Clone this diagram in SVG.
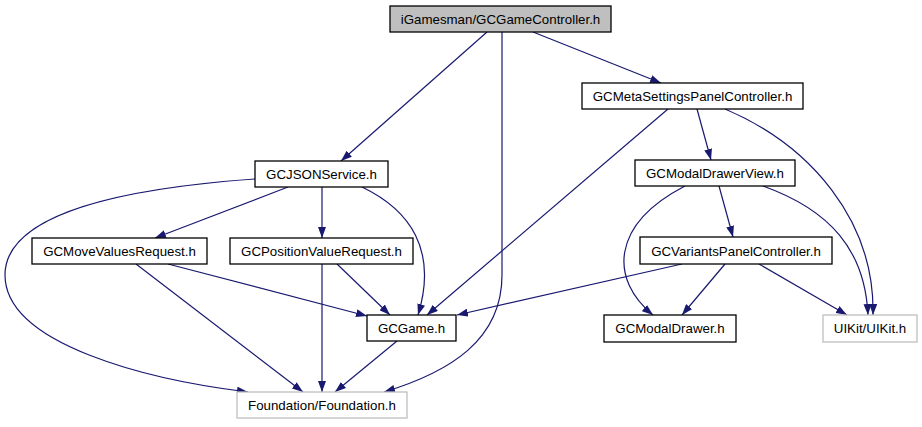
<svg xmlns="http://www.w3.org/2000/svg" width="922" height="427" viewBox="0 0 922 427">
<style>
.n rect{fill:#fff;stroke:#000;stroke-width:1.3}
.n.root rect{fill:#bfbfbf}
.n.ext rect{stroke:#bfbfbf}
.n text{font-family:"Liberation Sans",Arial,sans-serif;font-size:13.3px;text-anchor:middle;fill:#000}
.e path{fill:none;stroke:#191970;stroke-width:1.2;marker-end:url(#a)}
</style>
<defs>
<marker id="a" viewBox="0 0 11 8" refX="11" refY="4" markerWidth="11" markerHeight="8" markerUnits="userSpaceOnUse" orient="auto">
<path d="M0,0 L11,4 L0,8 z" fill="#191970"/>
</marker>
</defs>
<rect width="922" height="427" fill="#fff"/>
<g class="e" id="edges">
<path d="M487,32 L341,161"/>
<path d="M502,32 L502,275 C502,340 450,372 384,392"/>
<path d="M533,32 L661,83"/>
<path d="M668,109 L427,315"/>
<path d="M697,109 L711,160"/>
<path d="M725,109 C810,145 875,220 873,315"/>
<path d="M685,186 C610,225 610,280 653,315"/>
<path d="M719,186 L733,237"/>
<path d="M763,186 C830,210 865,250 868,315"/>
<path d="M682,264 L457,315"/>
<path d="M725,264 L682,315"/>
<path d="M759,264 L847,315"/>
<path d="M288,187 L155,238"/>
<path d="M322,187 L322,238"/>
<path d="M362,187 C410,210 438,250 418,315"/>
<path d="M255,179 C100,190 5,220 5,275 C5,345 150,380 248,392"/>
<path d="M168,264 L367,316"/>
<path d="M136,264 L303,392"/>
<path d="M337,264 L390,315"/>
<path d="M322,264 L322,392"/>
<path d="M397,341 L335,392"/>
</g>
<g class="n root" id="n-root"><rect x="390" y="6" width="221" height="26"/><text x="500.5" y="24">iGamesman/GCGameController.h</text></g>
<g class="n" id="n-meta"><rect x="582" y="83" width="221" height="26"/><text x="692.5" y="101">GCMetaSettingsPanelController.h</text></g>
<g class="n" id="n-mdv"><rect x="635" y="160" width="160" height="26"/><text x="715" y="178">GCModalDrawerView.h</text></g>
<g class="n" id="n-json"><rect x="255" y="161" width="133" height="26"/><text x="321.5" y="179">GCJSONService.h</text></g>
<g class="n" id="n-move"><rect x="32" y="238" width="175" height="26"/><text x="119.5" y="256">GCMoveValuesRequest.h</text></g>
<g class="n" id="n-pos"><rect x="230" y="238" width="183" height="26"/><text x="321.5" y="256">GCPositionValueRequest.h</text></g>
<g class="n" id="n-var"><rect x="640" y="237" width="192" height="27"/><text x="736" y="256">GCVariantsPanelController.h</text></g>
<g class="n" id="n-game"><rect x="367" y="315" width="89" height="26"/><text x="411.5" y="333">GCGame.h</text></g>
<g class="n" id="n-md"><rect x="604" y="315" width="132" height="27"/><text x="670" y="333">GCModalDrawer.h</text></g>
<g class="n ext" id="n-uikit"><rect x="823" y="315" width="94" height="27"/><text x="870" y="333">UIKit/UIKit.h</text></g>
<g class="n ext" id="n-found"><rect x="237" y="392" width="170" height="26"/><text x="322" y="410">Foundation/Foundation.h</text></g>
</svg>
